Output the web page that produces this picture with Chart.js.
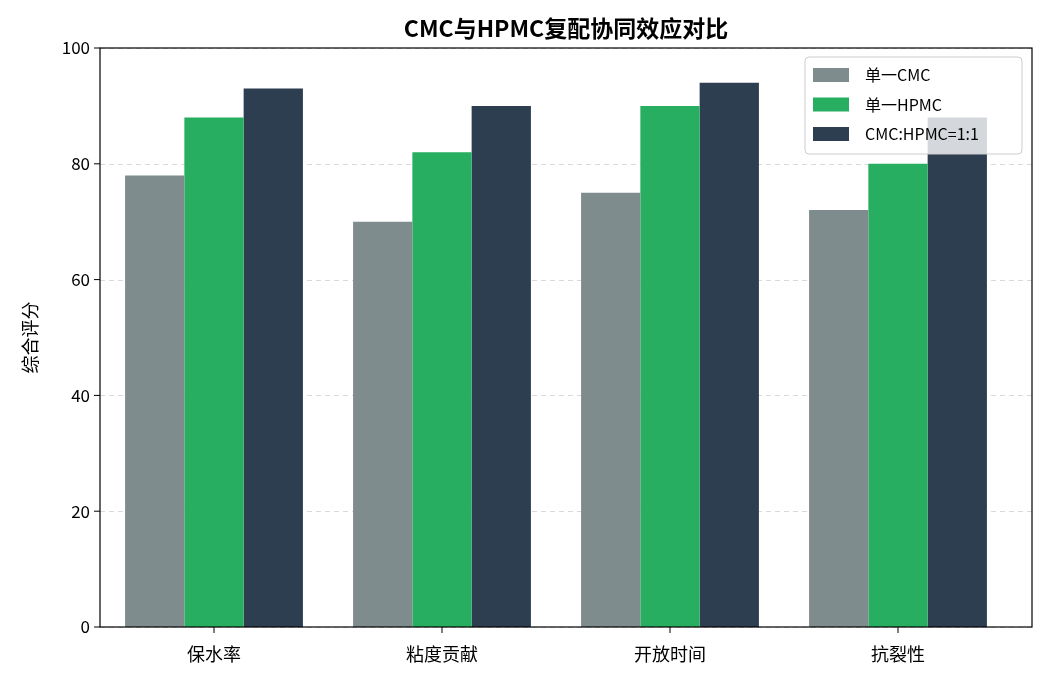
<!DOCTYPE html><html><head><meta charset="utf-8">
<script src="https://cdn.jsdelivr.net/npm/chart.js@4"></script>
<style>html,body{margin:0;padding:0;background:#fff}#c{display:block}</style></head><body>
<div style="width:1046px;height:682px"><canvas id="c"></canvas></div>
<script>
const categories=['保水率','粘度贡献','开放时间','抗裂性'];
const seriesNames=['单一CMC','单一HPMC','CMC:HPMC=1:1'];
const cmc=[78,70,75,72];
const hpmc=[88,82,90,80];
const blend=[93,90,94,88];
const yTicks=[0,20,40,60,80,100];
const colors=['#7f8c8d','#27ae60','#2c3e50'];
const F='"Noto Sans CJK SC","Noto Sans",sans-serif';
const FL=100,FR=1032;
const grid={id:'grid',beforeDatasetsDraw(ch){const c=ch.ctx,y=ch.scales.y;c.save();
  c.strokeStyle='rgba(0,0,0,0.15)';c.lineWidth=1;c.setLineDash([5,4]);
  yTicks.forEach(v=>{const p=Math.round(y.getPixelForValue(v))+0.5;c.beginPath();c.moveTo(FL,p);c.lineTo(FR,p);c.stroke();});
  c.restore();}};
const deco={id:'deco',
 afterDatasetsDraw(ch){const c=ch.ctx,a=ch.chartArea,y=ch.scales.y,x=ch.scales.x;c.save();
  c.strokeStyle='#000';c.lineWidth=1.2;c.strokeRect(FL,a.top,FR-FL,a.bottom-a.top);
  c.lineWidth=1;
  yTicks.forEach(v=>{const p=y.getPixelForValue(v);c.beginPath();c.moveTo(FL-6,p);c.lineTo(FL,p);c.stroke();});
  categories.forEach((_,i)=>{const p=x.getPixelForValue(i);c.beginPath();c.moveTo(p,a.bottom);c.lineTo(p,a.bottom+6);c.stroke();});
  c.fillStyle='#000';c.font='17px '+F;c.textAlign='right';c.textBaseline='middle';
  yTicks.forEach(v=>c.fillText(String(v),FL-10,y.getPixelForValue(v)));
  c.font='bold 23px '+F;c.textAlign='center';
  c.fillText('CMC与HPMC复配协同效应对比',(FL+FR)/2,28);
  c.font='18px '+F;c.translate(30,(a.top+a.bottom)/2);c.rotate(-Math.PI/2);c.fillText('综合评分',0,0);c.restore();
  c.save();const lx=805,ly=57,lw=217,lh=97;
  c.fillStyle='rgba(255,255,255,0.8)';c.strokeStyle='#ccc';c.lineWidth=1;
  c.beginPath();c.roundRect(lx,ly,lw,lh,4);c.fill();c.stroke();
  c.font='16px '+F;c.textAlign='left';c.textBaseline='middle';
  seriesNames.forEach((n,i)=>{const yy=75+i*29.5;c.fillStyle=colors[i];c.fillRect(813,yy-7,36,14);c.fillStyle='#000';c.fillText(n,865,yy);});
  c.restore();}};
new Chart(document.getElementById('c'),{type:'bar',
 data:{labels:categories,datasets:[cmc,hpmc,blend].map((d,i)=>({label:seriesNames[i],data:d,backgroundColor:colors[i],categoryPercentage:0.78,barPercentage:1}))},
 options:{responsive:true,maintainAspectRatio:false,animation:false,
  layout:{padding:{top:48,right:34,left:20,bottom:0}},
  plugins:{legend:{display:false},title:{display:false},tooltip:{enabled:false}},
  scales:{
   x:{afterFit(s){s.height=55},grid:{display:false},border:{display:false},
      ticks:{color:'#000',font:{family:F,size:18},padding:8}},
   y:{min:0,max:100,afterFit(s){s.width=80},afterBuildTicks(s){s.ticks=yTicks.map(v=>({value:v}))},
      grid:{display:false},border:{display:false},
      ticks:{display:false}}}},
 plugins:[grid,deco]});
</script></body></html>
